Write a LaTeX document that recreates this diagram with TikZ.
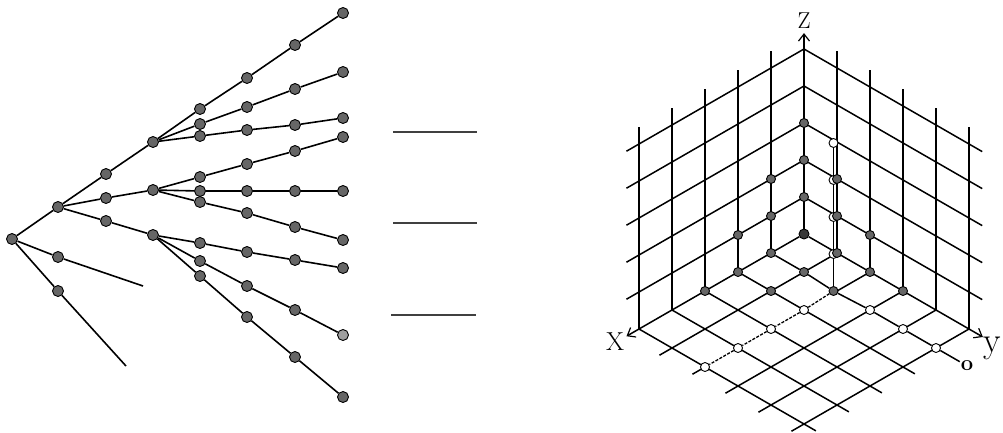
\documentclass[tikz,border=0pt]{standalone}
\usetikzlibrary{arrows.meta}
\pgfdeclarelayer{bg}
\pgfsetlayers{bg,main}
\begin{document}
\begin{tikzpicture}[x=1pt,y=-1pt,
  edge/.style={line width=1.6pt},
  tn/.style={circle,draw=black,line width=0.9pt,fill=black!60,inner sep=0pt,minimum size=11pt},
  tnl/.style={tn,fill=black!38},
  grid/.style={line width=1.5pt},
  dn/.style={circle,draw=black,line width=0.9pt,fill=black!60,inner sep=0pt,minimum size=9pt},
  cn/.style={dn,fill=black!78,minimum size=10pt},
  on/.style={circle,draw=black,line width=0.9pt,fill=white,inner sep=0pt,minimum size=9pt},
  axis/.style={grid,-{Straight Barb[length=7pt,width=11pt,line width=1.2pt]}},
  sepline/.style={line width=1.2pt,black!75},
  dsh/.style={line width=1.3pt,dash pattern=on 3pt off 1.5pt},
  lbl/.style={inner sep=0pt,anchor=base}
]
\useasboundingbox (0,0) rectangle (1003,432);

% ---------------- tree ----------------
\node[tn] (R) at (12,239) {};
\node[tn] (A) at (58,207) {};
\node[tn] (B) at (58,257) {};
\node[tn] (C) at (58,291) {};
\coordinate (Bend) at (143,286);
\coordinate (Cend) at (126,366);
\node[tn] (a1) at (106,174) {};
\node[tn] (D) at (153,142) {};
\node[tn] (t1) at (200,109) {};
\node[tn] (t2) at (247,78) {};
\node[tn] (t3) at (295,45) {};
\node[tn] (t4) at (343,13) {};
\node[tn] (d1) at (200,124) {};
\node[tn] (d2) at (247,107) {};
\node[tn] (d3) at (295,89) {};
\node[tn] (d4) at (343,72) {};
\node[tn] (e1) at (200,136) {};
\node[tn] (e2) at (247,130) {};
\node[tn] (e3) at (295,125) {};
\node[tn] (e4) at (343,118) {};
\node[tn] (a2) at (106,198) {};
\node[tn] (E) at (153,190) {};
\node[tn] (f1) at (200,177) {};
\node[tn] (f2) at (247,164) {};
\node[tn] (f3) at (295,151) {};
\node[tn] (f4) at (343,137) {};
\node[tn] (g1) at (200,191) {};
\node[tn] (g2) at (247,191) {};
\node[tn] (g3) at (295,191) {};
\node[tn] (g4) at (343,191) {};
\node[tn] (h1) at (200,202) {};
\node[tn] (h2) at (247,213) {};
\node[tn] (h3) at (295,227) {};
\node[tn] (h4) at (343,240) {};
\node[tn] (a3) at (106,221) {};
\node[tn] (F) at (153,235) {};
\node[tn] (i1) at (200,243) {};
\node[tn] (i2) at (247,252) {};
\node[tn] (i3) at (295,260) {};
\node[tn] (i4) at (343,268) {};
\node[tn] (j1) at (200,261) {};
\node[tn] (j2) at (247,286) {};
\node[tn] (j3) at (295,310) {};
\node[tnl] (j4) at (343,335) {};
\node[tn] (k1) at (200,276) {};
\node[tn] (k2) at (247,317) {};
\node[tn] (k3) at (295,357) {};
\node[tn] (k4) at (343,397) {};

\draw[edge] (R) -- (A) -- (a1) -- (D) -- (t1) -- (t2) -- (t3) -- (t4);
\draw[edge] (R) -- (B) -- (Bend);
\draw[edge] (R) -- (C) -- (Cend);
\draw[edge] (D) -- (d1) -- (d2) -- (d3) -- (d4);
\draw[edge] (D) -- (e1) -- (e2) -- (e3) -- (e4);
\draw[edge] (A) -- (a2) -- (E);
\draw[edge] (E) -- (f1) -- (f2) -- (f3) -- (f4);
\draw[edge] (E) -- (g1) -- (g2) -- (g3) -- (g4);
\draw[edge] (E) -- (h1) -- (h2) -- (h3) -- (h4);
\draw[edge] (A) -- (a3) -- (F);
\draw[edge] (F) -- (i1) -- (i2) -- (i3) -- (i4);
\draw[edge] (F) -- (j1) -- (j2) -- (j3) -- (j4);
\draw[edge] (F) -- (k1) -- (k2) -- (k3) -- (k4);

% ---------------- separators ----------------
\coordinate (s1a) at (393,132); \coordinate (s1b) at (477,132);
\coordinate (s2a) at (393,223); \coordinate (s2b) at (477,223);
\coordinate (s3a) at (391,315); \coordinate (s3b) at (476,315);
\draw[sepline] (s1a) -- (s1b);
\draw[sepline] (s2a) -- (s2b);
\draw[sepline] (s3a) -- (s3b);

% ---------------- 3D lattice ----------------
\begin{scope}[shift={(804pt,-234pt)}, x={(-33pt,-19pt)}, y={(33pt,-19pt)}, z={(0pt,37pt)}]
  \node[cn] (o000) at (0,0,0) {};
  \node[dn] (z001) at (0,0,1) {};
  \node[dn] (z002) at (0,0,2) {};
  \node[dn] (z003) at (0,0,3) {};
  \node[dn] (l100) at (1,0,0) {};
  \node[dn] (l101) at (1,0,1) {};
  \node[dn] (l102) at (1,0,2) {};
  \node[dn] (l200) at (2,0,0) {};
  \node[dn] (l201) at (2,0,1) {};
  \node[dn] (l300) at (3,0,0) {};
  \node[dn,xshift=-3.5pt] (f120) at (1,2,0) {};
  \node[on,xshift=-3.5pt] (p121) at (1,2,1) {};
  \node[on,xshift=-3.5pt] (p122) at (1,2,2) {};
  \node[on,xshift=-3.5pt] (p123) at (1,2,3) {};
  \node[on,xshift=-3.5pt] (p124) at (1,2,4) {};
  \node[dn] (r010) at (0,1,0) {};
  \node[dn] (r011) at (0,1,1) {};
  \node[dn] (r012) at (0,1,2) {};
  \node[dn] (r020) at (0,2,0) {};
  \node[dn] (r021) at (0,2,1) {};
  \node[dn] (r030) at (0,3,0) {};
  \node[dn] (f110) at (1,1,0) {};
  \node[dn] (f210) at (2,1,0) {};
  \node[on] (f220) at (2,2,0) {};
  \node[on] (f320) at (3,2,0) {};
  \node[on] (f420) at (4,2,0) {};
  \node[on] (f520) at (5,2,0) {};
  \node[on] (f130) at (1,3,0) {};
  \node[on] (f140) at (1,4,0) {};
  \node[on] (f150) at (1,5,0) {};
  \coordinate (xend) at (5.38,0,0);
  \coordinate (yend) at (0,5.42,0);
  \coordinate (zend) at (0,0,5.43);
  \coordinate (x1end) at (1,5.72,0);
  \begin{pgfonlayer}{bg}
    \foreach \i in {1,...,5} \draw[grid] (\i,0,0) -- (\i,0,5.46);
    \foreach \k in {1,...,5} \draw[grid] (0,0,\k) -- (5.38,0,\k);
    \foreach \j in {1,...,5} \draw[grid] (0,\j,0) -- (0,\j,5.46);
    \foreach \k in {1,...,5} \draw[grid] (0,0,\k) -- (0,5.4,\k);
    \foreach \j in {1,3,4,5} \draw[grid] (0,\j,0) -- (5.38,\j,0);
    \draw[grid] (0,2,0) -- (1,2,0);
    \draw[grid] (5,2,0) -- (5.38,2,0);
    \foreach \i in {2,...,5} \draw[grid] (\i,0,0) -- (\i,5.36,0);
    \draw[grid] (l100) -- (f110) -- (f120) -- (f130) -- (f140) -- (f150) -- (x1end);
    \draw[dsh] (f120) -- (f220) -- (f320) -- (f420) -- (f520);
    \draw[grid] (f120) -- (p121) -- (p122) -- (p123) -- (p124);
    \draw[axis] (o000) -- (xend);
    \draw[axis] (o000) -- (yend);
    \draw[axis] (o000) -- (zend);
  \end{pgfonlayer}
\end{scope}

% ---------------- labels ----------------
\node[lbl,font=\fontsize{26}{26}\selectfont] (lx) at (615,350) {X};
\node[lbl,font=\fontsize{23}{23}\selectfont] (lz) at (804,28) {Z};
\node[lbl,font=\fontsize{36}{36}\selectfont] (ly) at (992,352) {y};
\node[lbl,font=\bfseries\fontsize{22}{22}\selectfont] (lo) at (967,370) {o};
\end{tikzpicture}
\end{document}
